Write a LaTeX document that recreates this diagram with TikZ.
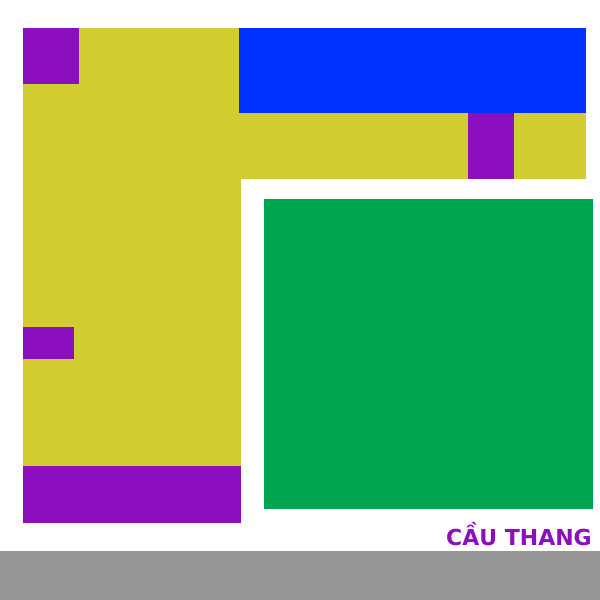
\documentclass[tikz,border=0pt]{standalone}
\usepackage{fontspec}
\setmainfont{DejaVu Sans}
\usepackage{tikz}
\definecolor{wallyellow}{HTML}{D1CD30}
\definecolor{roomblue}{HTML}{0033FF}
\definecolor{doorpurple}{HTML}{8B0FBE}
\definecolor{stairgreen}{HTML}{00A550}
\definecolor{streetgray}{HTML}{969696}

\begin{document}
\begin{tikzpicture}[x=1pt, y=-1pt]
    \useasboundingbox (0,0) rectangle (600,600);
    % Floor
    \fill[wallyellow] (23,28) rectangle (241,523);
    \fill[wallyellow] (23,28) rectangle (586,179);
    % Room
    \fill[roomblue] (239,28) rectangle (586,113);
    % Doors
    \fill[doorpurple] (23,28) rectangle (79,84);
    \fill[doorpurple] (468,113) rectangle (514,179);
    \fill[doorpurple] (23,327) rectangle (74,359);
    \fill[doorpurple] (23,466) rectangle (241,523);
    % Stairs
    \fill[stairgreen] (264,199) rectangle (593,509);
    \node[anchor=base east, inner sep=0pt, text=doorpurple, font=\fontsize{22}{22}\selectfont\bfseries] (stairlabel) at (592,545) {CẦU THANG};
    % Street
    \fill[streetgray] (0,551) rectangle (600,600);
\end{tikzpicture}
\end{document}
